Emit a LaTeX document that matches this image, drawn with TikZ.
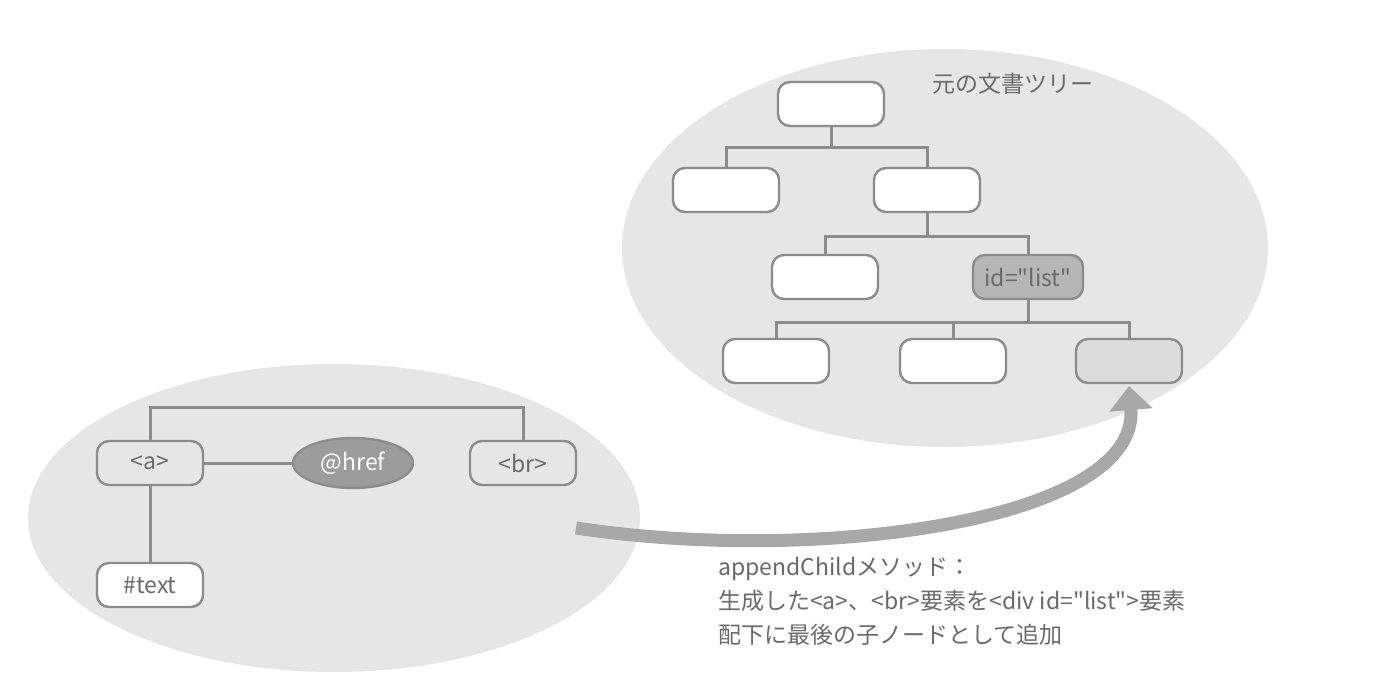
\documentclass[tikz,border=0pt]{standalone}
\usepackage{fontspec}
\newfontfamily\jpfont{Noto Sans CJK JP}
\usetikzlibrary{shapes.geometric,arrows.meta}
\definecolor{ellfill}{HTML}{E6E6E6}
\definecolor{boxline}{HTML}{8C8C8C}
\definecolor{txt}{HTML}{6A6A6A}
\definecolor{listfill}{HTML}{B6B6B6}
\definecolor{lastfill}{HTML}{DCDCDC}
\definecolor{hreffill}{HTML}{9C9C9C}
\definecolor{arrowcol}{HTML}{A8A8A8}
\tikzset{
  treebox/.style={draw=boxline, line width=2.4pt, fill=white, rounded corners=12pt,
    minimum width=106pt, minimum height=44pt, inner sep=0pt, text=txt,
    font=\jpfont\fontsize{23}{26}\selectfont},
  conn/.style={draw=boxline, line width=3pt},
  bubble/.style={fill=ellfill, draw=none}
}
\begin{document}
\begin{tikzpicture}[x=1pt,y=-1pt]
\useasboundingbox (0,0) rectangle (1398,688);
\fill[white] (0,0) rectangle (1398,688);
% background ellipses
\node[bubble, ellipse, minimum width=646pt, minimum height=398pt] (rightbg) at (945,248) {};
\node[bubble, ellipse, minimum width=612pt, minimum height=308pt] (leftbg) at (334,518) {};

% right tree
\node[treebox] (r0) at (831,104) {};
\node[treebox] (r1) at (726,190) {};
\node[treebox] (r2) at (927,190) {};
\node[treebox] (r3) at (825,277) {};
\node[treebox, fill=listfill, minimum width=110pt] (r4) at (1028,277) {id="list"};
\node[treebox] (r5) at (776,361) {};
\node[treebox] (r6) at (953,361) {};
\node[treebox, fill=lastfill] (r7) at (1129,361) {};
\node[text=txt, font=\jpfont\fontsize{23}{26}\selectfont] (title) at (1013,84) {元の文書ツリー};

\coordinate (j0) at (831,147);
\coordinate (j1) at (927,236);
\coordinate (j2) at (1028,322);
\draw[conn] (r0.south) -- (j0);
\draw[conn] (r1.north) |- (j0) -| (r2.north);
\draw[conn] (r2.south) -- (j1);
\draw[conn] (r3.north) |- (j1) -| (r4.north);
\draw[conn] (r4.south) -- (j2);
\draw[conn] (r5.north) |- (j2) -| (r7.north);
\draw[conn] (r6.north) -- (r6.north |- j2);

% left tree
\node[treebox, fill=ellfill] (a) at (150,463) {<a>};
\node[treebox, fill=ellfill] (br) at (523,463) {<br>};
\node[treebox] (text) at (150,585) {\#text};
\node[ellipse, draw=boxline, line width=2.4pt, fill=hreffill, minimum width=120pt, minimum height=50pt, inner sep=0pt, text=white, font=\jpfont\fontsize{23}{26}\selectfont] (href) at (353,463) {@href};
\coordinate (jl) at (337,407);
\draw[conn] (a.north) |- (jl) -| (br.north);
\draw[conn] (a.east) -- (href.west);
\draw[conn] (a.south) -- (text.north);

% arrow
\coordinate (arrstart) at (576,528);
\draw[arrowcol, line width=13pt, -{Triangle[width=42pt,length=24pt]}]
  (arrstart) .. controls (820,565) and (1140,520) .. (r7.south |- 0,386) ;

% description
\node[text=txt, align=left, anchor=north west, inner sep=0pt,
  font=\jpfont\fontsize{23}{34}\selectfont] (desc) at (718,557)
  {appendChildメソッド：\\生成した<a>、<br>要素を<div id="list">要素\\配下に最後の子ノードとして追加};
\end{tikzpicture}
\end{document}
